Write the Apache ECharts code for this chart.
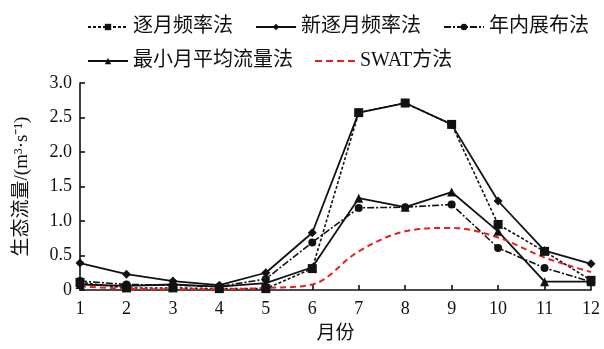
<!DOCTYPE html>
<html><head><meta charset="utf-8">
<script src="https://cdn.jsdelivr.net/npm/echarts@6/dist/echarts.min.js"></script>
<style>html,body{margin:0;padding:0;background:#fff}#c{width:604px;height:349px}</style>
</head><body><div id="c"></div>
<script>
const months = ['1','2','3','4','5','6','7','8','9','10','11','12'];
const zhuYue = [0.11, 0.03, 0.03, 0.02, 0.02, 0.31, 2.57, 2.71, 2.40, 0.95, 0.56, 0.14];
const xinZhuYue = [0.39, 0.23, 0.13, 0.07, 0.25, 0.83, 2.57, 2.71, 2.40, 1.29, 0.57, 0.38];
const nianNei = [0.13, 0.08, 0.07, 0.05, 0.16, 0.69, 1.19, 1.20, 1.24, 0.61, 0.32, 0.12];
const zuiXiao = [0.08, 0.06, 0.08, 0.05, 0.10, 0.33, 1.33, 1.20, 1.42, 0.85, 0.12, 0.12];
const swat = [0.05, 0.02, 0.01, 0.01, 0.03, 0.08, 0.56, 0.85, 0.90, 0.76, 0.47, 0.26];
const yTicks = ['0','0.5','1.0','1.5','2.0','2.5','3.0'];

const serif = '"Liberation Serif","Times New Roman","Noto Sans CJK SC",serif';
const cjk = '"Liberation Serif","Noto Sans CJK SC",serif';
const chart = echarts.init(document.getElementById('c'), null, {renderer:'canvas'});
const legText = {fontSize:20, color:'#111', fontFamily:cjk, padding:[0,0,0,0]};
chart.setOption({
  animation:false,
  backgroundColor:'#ffffff',
  legend:[
    {data:['逐月频率法','新逐月频率法','年内展布法'], left:82, top:12, width:522, itemWidth:40, itemHeight:8, itemGap:22, textStyle:legText},
    {data:['最小月平均流量法',
           {name:'SWAT方法', icon:'path://M0,0h7v2h-7zM11,0h7v2h-7zM22,0h7v2h-7zM33,0h7v2h-7z'}],
     left:82, top:46, width:522, itemWidth:40, itemHeight:8, itemGap:22, textStyle:legText}
  ],
  grid:{left:80, right:13, top:83, bottom:56},
  xAxis:{
    type:'category', data:months, boundaryGap:false,
    name:'月份', nameLocation:'middle', nameGap:35,
    nameTextStyle:{fontSize:19, color:'#111', fontFamily:cjk},
    axisLine:{lineStyle:{color:'#111', width:1.6}},
    axisTick:{inside:true, length:5, lineStyle:{color:'#111', width:1.6}, alignWithLabel:true},
    axisLabel:{fontSize:18, color:'#111', fontFamily:serif, margin:10},
    splitLine:{show:false}
  },
  yAxis:{
    type:'value', min:0, max:3, interval:0.5,
    name:'生态流量/(m³·s⁻¹)', nameLocation:'middle', nameGap:48,
    nameTextStyle:{fontSize:19, color:'#111', fontFamily:cjk},
    axisLine:{show:true, lineStyle:{color:'#111', width:1.6}},
    axisTick:{show:true, inside:true, length:5, lineStyle:{color:'#111', width:1.6}},
    axisLabel:{fontSize:18, color:'#111', fontFamily:serif, margin:8,
      formatter:(v)=>yTicks[Math.round(v/0.5)]},
    splitLine:{show:false}
  },
  series:[
    {name:'新逐月频率法', type:'line', data:xinZhuYue, symbol:'diamond', symbolSize:9,
      lineStyle:{color:'#111', width:1.8}, itemStyle:{color:'#111'}},
    {name:'最小月平均流量法', type:'line', data:zuiXiao, symbol:'triangle', symbolSize:9,
      lineStyle:{color:'#111', width:1.8}, itemStyle:{color:'#111'}},
    {name:'年内展布法', type:'line', data:nianNei, symbol:'circle', symbolSize:8,
      lineStyle:{color:'#111', width:1.6, type:[7,2,2,2]}, itemStyle:{color:'#111'}},
    {name:'逐月频率法', type:'line', data:zhuYue, symbol:'rect', symbolSize:9,
      lineStyle:{color:'#111', width:1.6, type:[3,2]}, itemStyle:{color:'#111'}},
    {name:'SWAT方法', type:'line', data:swat, symbol:'none', smooth:0.35,
      lineStyle:{color:'#e8201c', width:2, type:[6,4]}, itemStyle:{color:'#e8201c'}}
  ]
});
</script></body></html>
